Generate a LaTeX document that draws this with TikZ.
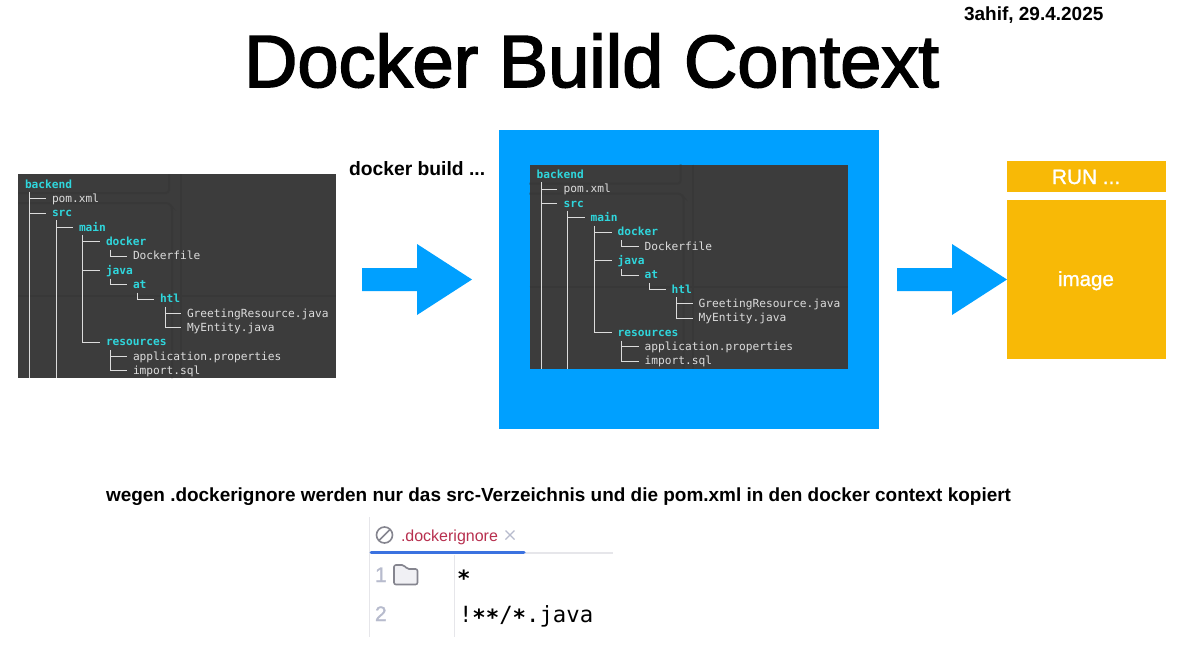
\documentclass[tikz,border=0pt]{standalone}
\usepackage{fontspec}
\setmainfont{Liberation Sans}
\newfontfamily\treemono{DejaVu Sans Mono}
\newfontfamily\medsans[FakeBold=2.2]{Liberation Sans}
\newfontfamily\semisans[FakeBold=1.2]{Liberation Sans}
\usetikzlibrary{calc}
\definecolor{panelgrey}{HTML}{3C3C3C}
\definecolor{paneldark}{HTML}{383838}
\definecolor{treecyan}{HTML}{2FD6DC}
\definecolor{treewhite}{HTML}{DCDCDC}
\definecolor{skyblue}{HTML}{00A0FF}
\definecolor{amber}{HTML}{F8B906}
\definecolor{tabred}{HTML}{B8304F}
\definecolor{tabblue}{HTML}{3B72E0}
\definecolor{gutter}{HTML}{B7BBCD}
\definecolor{rulegrey}{HTML}{E6E6EA}
\definecolor{icongrey}{HTML}{85858F}
\definecolor{folderfill}{HTML}{F0F0F4}
\tikzset{
  x=1pt,y=-1pt,
  lbl/.style={inner sep=0pt,outer sep=0pt,anchor=base west},
  dirn/.style={lbl,text=treecyan,font=\treemono\bfseries\fontsize{11.2}{11.2}\selectfont},
  filen/.style={lbl,text=treewhite,font=\treemono\fontsize{11.2}{11.2}\selectfont},
  treeline/.style={draw=treewhite,line width=0.9pt},
  shade/.style={draw=paneldark,line width=2pt},
  boldlbl/.style={lbl,font=\bfseries\fontsize{18.96}{19}\selectfont},
  bigarrow/.style={fill=skyblue,draw=none},
  gutterno/.style={lbl,text=gutter,font=\semisans\fontsize{21}{21}\selectfont},
  codetxt/.style={lbl,text=black,font=\treemono\fontsize{22.3}{22.3}\selectfont},
}
\newcommand{\lowstar}{\raisebox{-3pt}{\bfseries*}}
\newcommand{\treepanel}[3]{%
\begin{scope}[shift={(#1,#2)}]
  \fill[panelgrey] (18,174) rectangle (336,378);
  \draw[shade,rounded corners=3pt] (18,193) -- (169,193) -- (169,174);
  \draw[shade,rounded corners=3pt] (18,203) -- (169,203) -- (172,207) -- (172,378);
  \draw[shade] (18,296) -- (336,296);
  \draw[shade] (181,174) -- (181,378);
  \node[dirn]  (#3backend) at (25,188) {backend};
  \node[filen] (#3pom) at (52,202.3) {pom.xml};
  \node[dirn]  (#3src) at (52,216.7) {src};
  \node[dirn]  (#3main) at (79,231) {main};
  \node[dirn]  (#3docker) at (106,245.4) {docker};
  \node[filen] (#3dockerfile) at (133,259.7) {Dockerfile};
  \node[dirn]  (#3java) at (106,274.1) {java};
  \node[dirn]  (#3at) at (133,288.4) {at};
  \node[dirn]  (#3htl) at (160,302.8) {htl};
  \node[filen] (#3greet) at (187,317.1) {GreetingResource.java};
  \node[filen] (#3entity) at (187,331.4) {MyEntity.java};
  \node[dirn]  (#3res) at (106,345.8) {resources};
  \node[filen] (#3props) at (133,360.1) {application.properties};
  \node[filen] (#3sql) at (133,374.4) {import.sql};
  \draw[treeline] (29.3,191.5) -- (29.3,378) (29.3,198.5) -- (45.5,198.5) (29.3,213) -- (45.5,213);
  \draw[treeline] (56,220) -- (56,378) (56,227.3) -- (73,227.3);
  \draw[treeline] (82.8,235) -- (82.8,342) -- (100,342) (82.8,241.5) -- (100,241.5) (82.8,270.3) -- (100,270.3);
  \draw[treeline] (110,249.5) -- (110,256) -- (127,256);
  \draw[treeline] (110,278.5) -- (110,284.5) -- (127,284.5);
  \draw[treeline] (137.3,292.5) -- (137.3,299) -- (154,299);
  \draw[treeline] (165,306.5) -- (165,327.5) -- (181,327.5) (165,313.3) -- (181,313.3);
  \draw[treeline] (110,350) -- (110,370.5) -- (127,370.5) (110,356.3) -- (127,356.3);
\end{scope}}
\begin{document}
\begin{tikzpicture}
  \useasboundingbox (0,0) rectangle (1188,656);
  \fill[white] (0,0) rectangle (1188,656);

  \node[lbl,font=\medsans\fontsize{74}{74}\selectfont] (title) at (244,87) {Docker Build Context};
  \node[lbl,font=\bfseries\fontsize{19}{19}\selectfont] (stamp) at (964,20) {3ahif, 29.4.2025};

  \treepanel{0}{0}{a}

  \node[lbl,font=\bfseries\fontsize{19.3}{19.3}\selectfont] (cmd) at (349,175) {docker build ...};
  \fill[bigarrow] (362,268) -- (417,268) -- (417,244) -- (472,279.5) -- (417,315) -- (417,291) -- (362,291) -- cycle;

  \fill[skyblue] (499,130) rectangle (879,429);
  \treepanel{511.7}{-9.5}{b}

  \fill[bigarrow] (897,268) -- (952,268) -- (952,244) -- (1007,279.5) -- (952,315) -- (952,291) -- (897,291) -- cycle;

  \fill[amber] (1007,161) rectangle (1166,192);
  \fill[amber] (1007,200) rectangle (1166,359);
  \node[lbl,text=white,font=\semisans\fontsize{20.8}{21}\selectfont] (runbox) at (1052,184) {RUN ...};
  \node[lbl,text=white,font=\semisans\fontsize{20.5}{20.5}\selectfont] (imagebox) at (1058,286) {image};

  \node[boldlbl] (note) at (106,501) {wegen .dockerignore werden nur das src-Verzeichnis und die pom.xml in den docker context kopiert};

  % editor snippet
  \draw[rulegrey,line width=1pt] (369,517) -- (369,637);
  \draw[rulegrey,line width=1pt] (454,555) -- (454,637);
  \draw[rulegrey,line width=1.2pt] (525,553) -- (613,553);
  \draw[tabblue,line width=3pt,line cap=round] (371,552.5) -- (524,552.5);
  \draw[icongrey,line width=1.6pt] (384.5,535) circle (8pt);
  \draw[icongrey,line width=1.6pt] (379,540.5) -- (390,529.5);
  \node[lbl,text=tabred,font=\fontsize{16}{16}\selectfont] (tab) at (401,541) {.dockerignore};
  \draw[gutter,line width=1.2pt] (505.5,530.5) -- (514.5,539.5) (514.5,530.5) -- (505.5,539.5);
  \node[gutterno] (n1) at (375,582) {1};
  \node[gutterno] (n2) at (375,621) {2};
  \draw[icongrey,line width=1.6pt,fill=folderfill,rounded corners=2pt]
    (394,584.5) -- (394,565) -- (404,565) -- (407,569) -- (417.5,569) -- (417.5,584.5) -- cycle;
  \node[codetxt] (star) at (457,583) {\lowstar};
  \node[codetxt] (pattern) at (459,622) {!\lowstar\lowstar/\lowstar.java};
\end{tikzpicture}
\end{document}
